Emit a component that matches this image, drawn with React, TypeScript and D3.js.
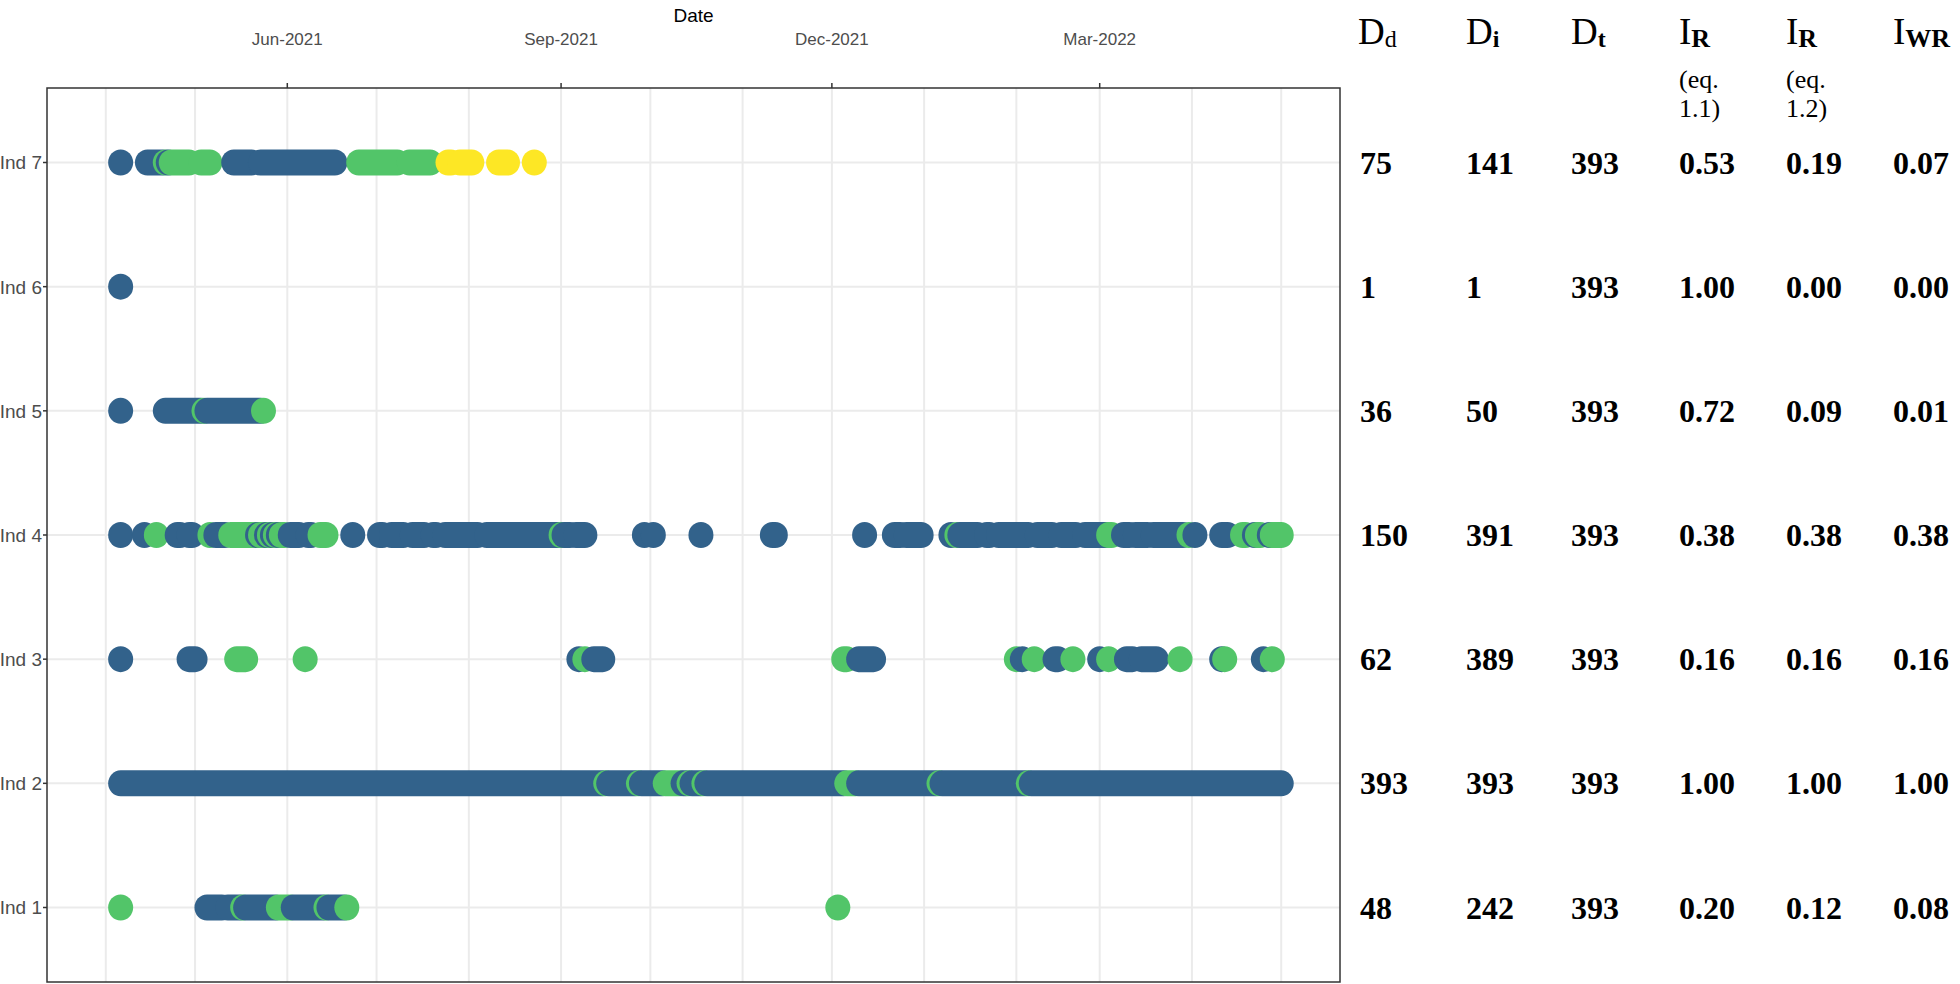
import React from 'react';
import * as d3 from 'd3';

// individuals, bottom to top
const individuals = ['Ind 1', 'Ind 2', 'Ind 3', 'Ind 4', 'Ind 5', 'Ind 6', 'Ind 7'];

// study period (axis limits get the usual 5% padding) and first detection day
const studyStart = new Date(2021, 3, 1);
const studyEnd = new Date(2022, 4, 1);
const firstDay = new Date(2021, 3, 6);
const tickDates = [new Date(2021, 5, 1), new Date(2021, 8, 1), new Date(2021, 11, 1), new Date(2022, 2, 1)];

// detection runs: [first day, last day, group], day 0 = firstDay
// group 1 = blue, 2 = green, 3 = yellow
const ind1 = [
  [0, 0, 2], [29, 34, 1], [36, 40, 1], [41, 41, 2], [42, 52, 1], [53, 57, 2], [58, 68, 1],
  [69, 69, 2], [70, 75, 1], [76, 76, 2], [241, 241, 2],
];
const ind2 = [
  [0, 162, 1], [163, 163, 2], [164, 173, 1], [174, 174, 2], [175, 182, 1], [183, 188, 2],
  [189, 190, 1], [191, 191, 2], [192, 195, 1], [196, 196, 2], [197, 243, 1], [244, 247, 2],
  [248, 274, 1], [275, 275, 2], [276, 304, 1], [305, 305, 2], [306, 390, 1],
];
const ind3 = [
  [0, 0, 1], [23, 25, 1], [39, 42, 2], [62, 62, 2], [154, 154, 1], [156, 156, 2], [159, 162, 1],
  [243, 244, 2], [248, 253, 1], [301, 301, 2], [303, 303, 1], [307, 307, 2], [314, 315, 1],
  [320, 320, 2], [329, 329, 1], [332, 332, 2], [338, 340, 1], [343, 348, 1], [356, 356, 2],
  [370, 370, 1], [371, 371, 2], [384, 384, 1], [387, 387, 2],
];
const ind4 = [
  [0, 0, 1], [8, 8, 1], [12, 12, 2], [19, 20, 1], [23, 24, 1], [30, 30, 2], [32, 35, 1],
  [37, 45, 2], [46, 46, 1], [47, 48, 2], [49, 49, 1], [50, 50, 2], [51, 51, 1], [52, 52, 2],
  [53, 53, 1], [54, 55, 2], [57, 60, 1], [63, 64, 1], [67, 69, 2], [78, 78, 1], [87, 88, 1],
  [91, 95, 1], [98, 102, 1], [105, 106, 1], [109, 120, 1], [123, 147, 1], [148, 148, 2],
  [149, 151, 1], [153, 156, 1], [176, 176, 1], [179, 179, 1], [195, 195, 1], [219, 220, 1],
  [250, 250, 1], [260, 262, 1], [264, 269, 1], [279, 279, 1], [281, 281, 2], [282, 288, 1],
  [291, 292, 1], [295, 305, 1], [308, 313, 1], [316, 321, 1], [324, 331, 1], [332, 333, 2],
  [337, 339, 1], [341, 345, 1], [347, 357, 1], [359, 359, 2], [361, 361, 1], [370, 372, 1],
  [377, 378, 2], [381, 381, 1], [382, 383, 2], [386, 386, 1], [387, 390, 2],
];
const ind5 = [[0, 0, 1], [15, 27, 1], [28, 28, 2], [29, 47, 1], [48, 48, 2]];
const ind6 = [[0, 0, 1]];
const ind7 = [
  [0, 0, 1], [9, 14, 1], [15, 15, 2], [16, 16, 1], [17, 23, 2], [27, 30, 2], [38, 44, 1],
  [47, 72, 1], [80, 93, 2], [97, 104, 2], [110, 111, 3], [114, 118, 3], [127, 130, 3], [139, 139, 3],
];
const detections = [ind1, ind2, ind3, ind4, ind5, ind6, ind7];
const groupColors = ['#32628B', '#52C569', '#FDE725'];

// table values, Ind 1..7
const dd = [48, 393, 62, 150, 36, 1, 75];
const di = [242, 393, 389, 391, 50, 1, 141];
const dt = [393, 393, 393, 393, 393, 393, 393];
const ir11 = [0.2, 1.0, 0.16, 0.38, 0.72, 1.0, 0.53];
const ir12 = [0.12, 1.0, 0.16, 0.38, 0.09, 0.0, 0.19];
const iwr = [0.08, 1.0, 0.16, 0.38, 0.01, 0.0, 0.07];

const W = 1960;
const H = 984;
const panel = { left: 47, top: 88, right: 1340, bottom: 982 };
const colX = [1360, 1466, 1571, 1679, 1786, 1893];
const RX = 12.5;
const RY = 13;

const sans = 'Liberation Sans, Arial, sans-serif';
const serif = 'Liberation Serif, Times New Roman, serif';

export default function App() {
  const span = +studyEnd - +studyStart;
  const x = d3.scaleTime()
    .domain([new Date(+studyStart - span * 0.05), new Date(+studyEnd + span * 0.05)])
    .range([panel.left, panel.right]);
  const y = d3.scalePoint<string>()
    .domain(individuals)
    .range([panel.bottom, panel.top])
    .padding(0.6);

  const dayX = (d: number) => x(d3.timeDay.offset(firstDay, d));
  const months = d3.timeMonth.range(d3.timeMonth.ceil(x.domain()[0]), x.domain()[1]);
  const fmt = d3.timeFormat('%b-%Y');
  const f2 = d3.format('.2f');

  const columns = [dd, di, dt, ir11.map(f2), ir12.map(f2), iwr.map(f2)];
  const headY = 44;

  return (
    <svg width={W} height={H} style={{ position: 'absolute', left: 0, top: 0, display: 'block' }}>
      <rect width={W} height={H} fill="#fff" />

      {/* grid */}
      {months.map((m, i) => (
        <line key={'v' + i} x1={x(m)} x2={x(m)} y1={panel.top} y2={panel.bottom} stroke="#EBEBEB" strokeWidth={2} />
      ))}
      {individuals.map((ind) => (
        <line key={'h' + ind} x1={panel.left} x2={panel.right} y1={y(ind)} y2={y(ind)} stroke="#EBEBEB" strokeWidth={2} />
      ))}

      {/* detections */}
      {detections.map((runs, k) => {
        const cy = y(individuals[k]) as number;
        return (
          <g key={'ind' + k}>
            {runs.map(([s, e, g], j) => {
              const x0 = dayX(s);
              const x1 = dayX(e);
              return (
                <rect
                  key={j}
                  x={x0 - RX}
                  y={cy - RY}
                  width={x1 - x0 + 2 * RX}
                  height={2 * RY}
                  rx={RX}
                  ry={RY}
                  fill={groupColors[g - 1]}
                />
              );
            })}
          </g>
        );
      })}

      {/* panel border */}
      <rect x={panel.left} y={panel.top} width={panel.right - panel.left} height={panel.bottom - panel.top}
        fill="none" stroke="#333" strokeWidth={1.5} />

      {/* top x axis */}
      <text x={(panel.left + panel.right) / 2} y={22} textAnchor="middle" fontFamily={sans} fontSize={19} fill="#000">Date</text>
      {tickDates.map((t, i) => (
        <g key={'t' + i}>
          <line x1={x(t)} x2={x(t)} y1={panel.top - 5} y2={panel.top} stroke="#333" strokeWidth={1.5} />
          <text x={x(t)} y={45} textAnchor="middle" fontFamily={sans} fontSize={17} fill="#4D4D4D">{fmt(t)}</text>
        </g>
      ))}

      {/* y axis */}
      {individuals.map((ind) => (
        <g key={'y' + ind}>
          <line x1={panel.left - 4} x2={panel.left} y1={y(ind)} y2={y(ind)} stroke="#333" strokeWidth={1.5} />
          <text x={panel.left - 5} y={y(ind)} dy="0.36em" textAnchor="end" fontFamily={sans} fontSize={19} fill="#4D4D4D">{ind}</text>
        </g>
      ))}

      {/* table header */}
      <g fontFamily={serif} fill="#000">
        <text x={colX[0] - 2} y={headY} fontSize={37}>D<tspan fontSize={24} dy={3}>d</tspan></text>
        <text x={colX[1]} y={headY} fontSize={37}>D<tspan fontSize={24} dy={3} fontWeight="bold">i</tspan></text>
        <text x={colX[2]} y={headY} fontSize={37}>D<tspan fontSize={24} dy={3} fontWeight="bold">t</tspan></text>
        <text x={colX[3]} y={headY} fontSize={37}>I<tspan fontSize={26} dy={3} fontWeight="bold">R</tspan></text>
        <text x={colX[3]} y={88} fontSize={26}>(eq.</text>
        <text x={colX[3]} y={117} fontSize={26}>1.1)</text>
        <text x={colX[4]} y={headY} fontSize={37}>I<tspan fontSize={26} dy={3} fontWeight="bold">R</tspan></text>
        <text x={colX[4]} y={88} fontSize={26}>(eq.</text>
        <text x={colX[4]} y={117} fontSize={26}>1.2)</text>
        <text x={colX[5]} y={headY} fontSize={37}>I<tspan fontSize={26} dy={3} fontWeight="bold">WR</tspan></text>
      </g>

      {/* table values */}
      <g fontFamily={serif} fontWeight="bold" fontSize={32} fill="#000">
        {columns.map((col, c) =>
          col.map((v, r) => (
            <text key={c + '-' + r} x={colX[c]} y={(y(individuals[r]) as number) + 11}>{v}</text>
          ))
        )}
      </g>
    </svg>
  );
}
